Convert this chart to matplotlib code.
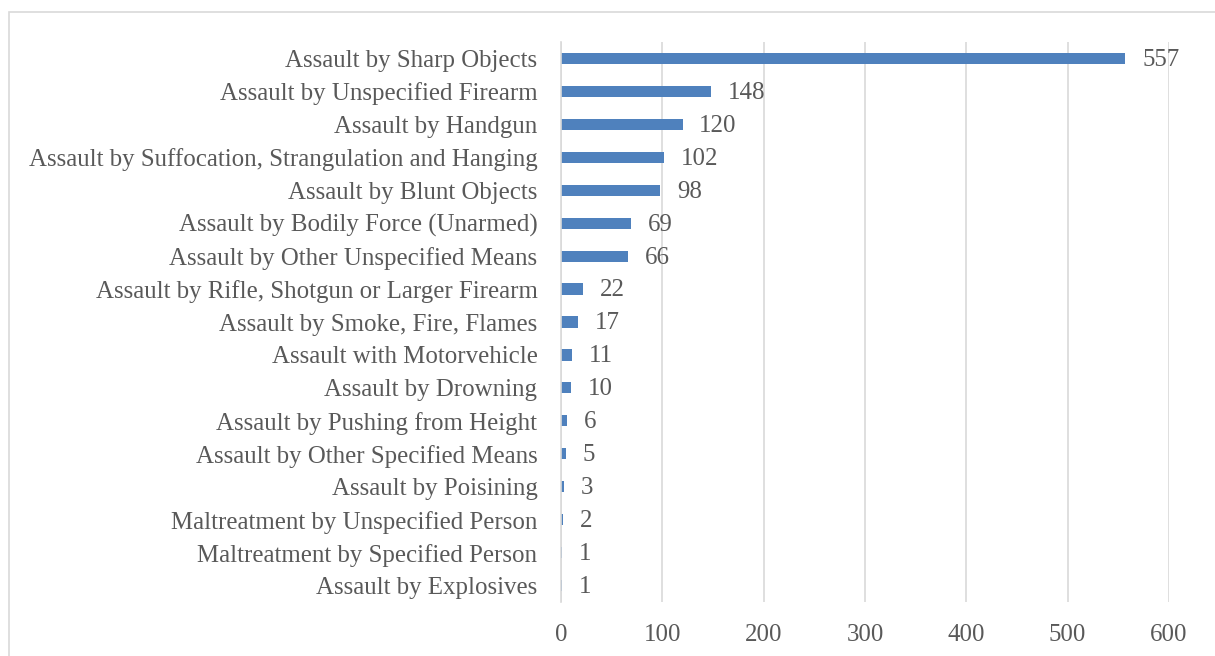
import matplotlib.pyplot as plt
from matplotlib.patches import Rectangle

categories = [
    "Assault by Sharp Objects",
    "Assault by Unspecified Firearm",
    "Assault by Handgun",
    "Assault by Suffocation, Strangulation and Hanging",
    "Assault by Blunt Objects",
    "Assault by Bodily Force (Unarmed)",
    "Assault by Other Unspecified Means",
    "Assault by Rifle, Shotgun or Larger Firearm",
    "Assault by Smoke, Fire, Flames",
    "Assault with Motorvehicle",
    "Assault by Drowning",
    "Assault by Pushing from Height",
    "Assault by Other Specified Means",
    "Assault by Poisining",
    "Maltreatment by Unspecified Person",
    "Maltreatment by Specified Person",
    "Assault by Explosives",
]
counts = [557, 148, 120, 102, 98, 69, 66, 22, 17, 11, 10, 6, 5, 3, 2, 1, 1]
xticks = [0, 100, 200, 300, 400, 500, 600]

bar_color = "#4F81BD"
text_color = "#595959"
grid_color = "#D9D9D9"
fs = 17.9

plt.rcParams['font.family'] = ['Liberation Serif', 'DejaVu Serif']

fig = plt.figure(figsize=(12.15, 6.56), dpi=100)
ax = fig.add_axes([561 / 1215, 1 - 602 / 656, 608 / 1215, 560 / 656])

# outer chart border like the spreadsheet frame
fig.patches.append(Rectangle((9 / 1215, -0.01), 1.1, 1 - 12 / 656 + 0.01,
                             transform=fig.transFigure, fill=False,
                             edgecolor=grid_color, linewidth=1.2))

ypos = list(range(len(categories)))
ax.barh(ypos, counts, height=0.34, color=bar_color, zorder=2)
for y, v in zip(ypos, counts):
    ax.annotate(str(v), (v, y), xytext=(12, -1), textcoords='offset points',
                va='center', ha='left', fontsize=fs, color=text_color)

ax.set_yticks(ypos)
ax.set_yticklabels(categories, fontsize=fs, color=text_color)
ax.set_ylim(len(categories) - 0.5, -0.5)
ax.set_xlim(0, 600)
ax.set_xticks(xticks)
ax.set_xticklabels([str(t) for t in xticks], fontsize=fs, color=text_color)
ax.tick_params(axis='x', length=0, pad=16)
ax.tick_params(axis='y', length=0, pad=17)
ax.xaxis.grid(True, color=grid_color, linewidth=1.2, zorder=0)
ax.set_axisbelow(True)
for s in ['top', 'right', 'bottom']:
    ax.spines[s].set_visible(False)
ax.spines['left'].set_color(grid_color)
ax.spines['left'].set_linewidth(1.2)

fig.savefig("out.png", dpi=100)
